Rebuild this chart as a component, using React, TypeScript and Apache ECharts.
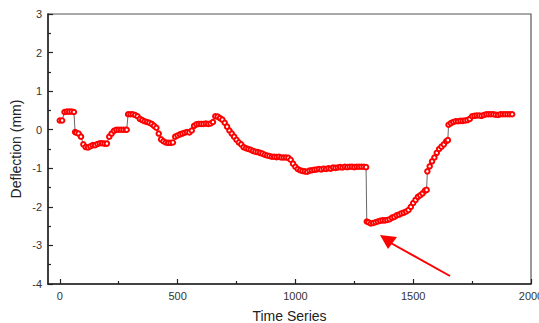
import React, { useEffect, useRef } from "react";
import * as echarts from "echarts";

const time = [
  0, 10, 20, 30, 40, 50, 60, 65, 70, 80, 90, 100, 110, 120, 130, 140, 150, 160, 170, 180, 190, 200,
  210, 220, 230, 240, 250, 260, 270, 280, 284, 290, 300, 310, 320, 330, 340, 350, 360, 370, 380, 390,
  400, 410, 420, 430, 440, 450, 460, 470, 480, 490, 500, 510, 520, 530, 540, 550, 560, 570, 580, 590,
  600, 610, 620, 630, 640, 650, 660, 670, 680, 690, 700, 710, 720, 730, 740, 750, 760, 770, 780, 790,
  800, 810, 820, 830, 840, 850, 860, 870, 880, 890, 900, 910, 920, 930, 940, 950, 960, 970, 980, 990,
  1000, 1010, 1020, 1030, 1040, 1050, 1060, 1070, 1080, 1090, 1100, 1110, 1120, 1130, 1140, 1150,
  1160, 1170, 1180, 1190, 1200, 1210, 1220, 1230, 1240, 1250, 1260, 1270, 1280, 1290, 1300, 1303,
  1310, 1320, 1330, 1340, 1350, 1360, 1370, 1380, 1390, 1400, 1410, 1420, 1430, 1440, 1450, 1460,
  1470, 1480, 1490, 1500, 1510, 1520, 1530, 1540, 1550, 1557, 1560, 1570, 1580, 1590, 1600, 1610,
  1620, 1630, 1640, 1647, 1650, 1660, 1670, 1680, 1690, 1700, 1710, 1720, 1730, 1740, 1750, 1760,
  1770, 1780, 1790, 1800, 1810, 1820, 1830, 1840, 1850, 1860, 1870, 1880, 1890, 1900, 1910, 1920,
];

const deflection = [
  0.24, 0.24, 0.46, 0.47, 0.47, 0.47, 0.46, -0.06, -0.08, -0.1, -0.18, -0.38, -0.45, -0.46, -0.43, -0.4,
  -0.4, -0.37, -0.35, -0.35, -0.36, -0.36, -0.18, -0.1, -0.03, 0.0, 0.0, 0.0, 0.0, 0.0, 0.0, 0.4,
  0.4, 0.4, 0.38, 0.35, 0.28, 0.25, 0.22, 0.2, 0.18, 0.15, 0.1, 0.05, -0.1, -0.25, -0.3, -0.33,
  -0.34, -0.34, -0.33, -0.18, -0.15, -0.12, -0.1, -0.08, -0.06, -0.07, -0.02, 0.1, 0.14, 0.15, 0.15,
  0.15, 0.16, 0.15, 0.16, 0.2, 0.35, 0.34, 0.3, 0.26, 0.18, 0.08, -0.02, -0.1, -0.18, -0.26, -0.33,
  -0.38, -0.45, -0.48, -0.5, -0.52, -0.55, -0.57, -0.58, -0.6, -0.62, -0.65, -0.67, -0.68, -0.7,
  -0.7, -0.71, -0.7, -0.72, -0.72, -0.72, -0.73, -0.78, -0.88, -0.96, -1.02, -1.05, -1.07, -1.08,
  -1.09, -1.06, -1.05, -1.04, -1.03, -1.02, -1.03, -1.01, -1.02, -1.0, -1.01, -0.98, -0.99, -0.98,
  -0.97, -0.98, -0.96, -0.97, -0.96, -0.96, -0.97, -0.96, -0.96, -0.96, -0.96, -0.97, -2.38, -2.4,
  -2.43, -2.42, -2.4, -2.38, -2.36, -2.35, -2.35, -2.34, -2.32, -2.28, -2.26, -2.22, -2.2, -2.17,
  -2.15, -2.12, -2.08, -2.0, -1.9, -1.82, -1.74, -1.7, -1.65, -1.58, -1.56, -1.08, -0.95, -0.82,
  -0.72, -0.6, -0.5, -0.44, -0.38, -0.3, -0.27, 0.13, 0.17, 0.2, 0.22, 0.22, 0.23, 0.23, 0.24, 0.25,
  0.28, 0.35, 0.36, 0.37, 0.37, 0.36, 0.38, 0.4, 0.4, 0.4, 0.4, 0.39, 0.38, 0.4, 0.4, 0.4, 0.4, 0.4,
  0.4,
];

const xMajorTicks = [0, 500, 1000, 1500, 2000];
const xMinorTicks = [250, 750, 1250, 1750];

const FONT = "'Liberation Sans', Arial, sans-serif";

export default function App() {
  const ref = useRef<HTMLDivElement>(null);
  useEffect(() => {
    if (!ref.current) return;
    const chart = echarts.init(ref.current, undefined, { renderer: "svg" });
    const data = time.map((t, i) => [t, deflection[i]]);
    chart.setOption({
      animation: false,
      backgroundColor: "#ffffff",
      grid: {
        left: 48,
        top: 14,
        right: 8,
        bottom: 39,
        containLabel: false,
        outerBoundsMode: "none",
        show: true,
        borderColor: "#555",
        borderWidth: 1.2,
        backgroundColor: "transparent",
      },
      xAxis: [
        {
          type: "value",
          min: -50,
          max: 2000,
          name: "Time Series",
          nameLocation: "middle",
          nameGap: 25,
          nameMoveOverlap: false,
          nameTextStyle: { fontFamily: FONT, fontSize: 14, fontWeight: "normal", color: "#222" },
          axisLine: { show: true, onZero: false, lineStyle: { color: "#222", width: 1.5 } },
          axisTick: {
            show: true,
            inside: true,
            length: 5,
            customValues: xMajorTicks,
            lineStyle: { color: "#222", width: 1.2 },
          },
          axisLabel: {
            customValues: xMajorTicks,
            formatter: (v: number) => String(v),
            fontFamily: FONT,
            fontSize: 11,
            color: "#333",
            margin: 6,
          },
          splitLine: { show: false },
        },
        {
          type: "value",
          min: -50,
          max: 2000,
          position: "bottom",
          axisLine: { show: false, onZero: false },
          axisTick: {
            show: true,
            inside: true,
            length: 3,
            customValues: xMinorTicks,
            lineStyle: { color: "#222", width: 1.2 },
          },
          axisLabel: { show: false },
          splitLine: { show: false },
        },
      ],
      yAxis: {
        type: "value",
        min: -4,
        max: 3,
        interval: 1,
        name: "Deflection (mm)",
        nameLocation: "middle",
        nameGap: 25,
        nameMoveOverlap: false,
        nameTextStyle: { fontFamily: FONT, fontSize: 14, fontWeight: "normal", color: "#222" },
        axisLine: { show: true, onZero: false, lineStyle: { color: "#222", width: 1.5 } },
        axisTick: { show: true, inside: true, length: 5, lineStyle: { color: "#222", width: 1.2 } },
        minorTick: { show: true, splitNumber: 2, length: 3, lineStyle: { color: "#222", width: 1.2 } },
        axisLabel: { fontFamily: FONT, fontSize: 11, color: "#333", margin: 6 },
        splitLine: { show: false },
        minorSplitLine: { show: false },
      },
      series: [
        {
          type: "line",
          data,
          symbol: "emptyCircle",
          symbolSize: 4.5,
          showSymbol: true,
          lineStyle: { color: "#666", width: 1 },
          itemStyle: { color: "#ff0000", borderColor: "#ff0000", borderWidth: 0.9 },
        },
      ],
      graphic: [
        {
          type: "line",
          shape: { x1: 450, y1: 276, x2: 389, y2: 242 },
          style: { stroke: "#ff0000", lineWidth: 2 },
        },
        {
          type: "polygon",
          shape: {
            points: [
              [380, 235],
              [397, 237],
              [388, 249],
            ],
          },
          style: { fill: "#ff0000" },
        },
      ],
    });
    return () => chart.dispose();
  }, []);
  return (
    <div
      ref={ref}
      style={{ position: "fixed", left: 0, top: 0, width: 539, height: 323 }}
    />
  );
}
